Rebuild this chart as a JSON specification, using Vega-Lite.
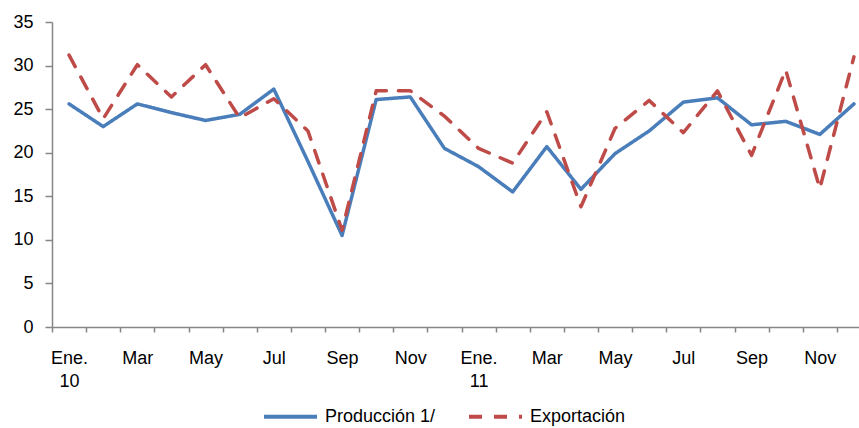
{
  "$schema": "https://vega.github.io/schema/vega-lite/v6.json",
  "autosize": {"type": "none"},
  "padding": {"left": 52, "top": 22, "right": 0, "bottom": 101},
  "width": 819,
  "height": 305,
  "background": "white",
  "config": {
    "font": "Liberation Sans",
    "view": {"stroke": null},
    "axis": {"labelFont": "Liberation Sans", "labelFontSize": 18, "labelColor": "#000000", "domainColor": "#868686", "tickColor": "#868686", "domainWidth": 1.5, "tickWidth": 1.5, "grid": false, "title": null},
    "legend": {"orient": "none", "legendX": 210, "legendY": 366, "direction": "horizontal", "title": null, "padding": 0, "symbolType": "stroke", "symbolSize": 2809, "symbolStrokeWidth": 4, "labelFontSize": 18, "labelFont": "Liberation Sans", "labelColor": "#000000", "labelOffset": 6, "columnPadding": 25}
  },
  "data": {
    "values": [
      {"mes": "Ene-10", "serie": "Producción 1/", "valor": 25.6},
      {"mes": "Feb-10", "serie": "Producción 1/", "valor": 23.0},
      {"mes": "Mar-10", "serie": "Producción 1/", "valor": 25.6},
      {"mes": "Abr-10", "serie": "Producción 1/", "valor": 24.6},
      {"mes": "May-10", "serie": "Producción 1/", "valor": 23.7},
      {"mes": "Jun-10", "serie": "Producción 1/", "valor": 24.4},
      {"mes": "Jul-10", "serie": "Producción 1/", "valor": 27.3},
      {"mes": "Ago-10", "serie": "Producción 1/", "valor": 19.0},
      {"mes": "Sep-10", "serie": "Producción 1/", "valor": 10.5},
      {"mes": "Oct-10", "serie": "Producción 1/", "valor": 26.1},
      {"mes": "Nov-10", "serie": "Producción 1/", "valor": 26.4},
      {"mes": "Dic-10", "serie": "Producción 1/", "valor": 20.5},
      {"mes": "Ene-11", "serie": "Producción 1/", "valor": 18.4},
      {"mes": "Feb-11", "serie": "Producción 1/", "valor": 15.5},
      {"mes": "Mar-11", "serie": "Producción 1/", "valor": 20.7},
      {"mes": "Abr-11", "serie": "Producción 1/", "valor": 15.8},
      {"mes": "May-11", "serie": "Producción 1/", "valor": 19.9},
      {"mes": "Jun-11", "serie": "Producción 1/", "valor": 22.5},
      {"mes": "Jul-11", "serie": "Producción 1/", "valor": 25.8},
      {"mes": "Ago-11", "serie": "Producción 1/", "valor": 26.3},
      {"mes": "Sep-11", "serie": "Producción 1/", "valor": 23.2},
      {"mes": "Oct-11", "serie": "Producción 1/", "valor": 23.6},
      {"mes": "Nov-11", "serie": "Producción 1/", "valor": 22.1},
      {"mes": "Dic-11", "serie": "Producción 1/", "valor": 25.6},
      {"mes": "Ene-10", "serie": "Exportación", "valor": 31.2},
      {"mes": "Feb-10", "serie": "Exportación", "valor": 23.9},
      {"mes": "Mar-10", "serie": "Exportación", "valor": 30.1},
      {"mes": "Abr-10", "serie": "Exportación", "valor": 26.4},
      {"mes": "May-10", "serie": "Exportación", "valor": 30.1},
      {"mes": "Jun-10", "serie": "Exportación", "valor": 24.0},
      {"mes": "Jul-10", "serie": "Exportación", "valor": 26.2},
      {"mes": "Ago-10", "serie": "Exportación", "valor": 22.5},
      {"mes": "Sep-10", "serie": "Exportación", "valor": 11.1},
      {"mes": "Oct-10", "serie": "Exportación", "valor": 27.1},
      {"mes": "Nov-10", "serie": "Exportación", "valor": 27.1},
      {"mes": "Dic-10", "serie": "Exportación", "valor": 24.2},
      {"mes": "Ene-11", "serie": "Exportación", "valor": 20.5},
      {"mes": "Feb-11", "serie": "Exportación", "valor": 18.8},
      {"mes": "Mar-11", "serie": "Exportación", "valor": 24.7},
      {"mes": "Abr-11", "serie": "Exportación", "valor": 13.8},
      {"mes": "May-11", "serie": "Exportación", "valor": 22.8},
      {"mes": "Jun-11", "serie": "Exportación", "valor": 26.0},
      {"mes": "Jul-11", "serie": "Exportación", "valor": 22.3},
      {"mes": "Ago-11", "serie": "Exportación", "valor": 27.1},
      {"mes": "Sep-11", "serie": "Exportación", "valor": 19.7},
      {"mes": "Oct-11", "serie": "Exportación", "valor": 29.5},
      {"mes": "Nov-11", "serie": "Exportación", "valor": 15.9},
      {"mes": "Dic-11", "serie": "Exportación", "valor": 31.0}
    ]
  },
  "mark": {"type": "line", "strokeWidth": 3.5, "strokeJoin": "round", "strokeCap": "round"},
  "encoding": {
    "x": {
      "field": "mes",
      "type": "ordinal",
      "sort": null,
      "scale": {"type": "band", "paddingInner": 0, "paddingOuter": 0},
      "axis": {
        "tickBand": "extent",
        "tickSize": 5,
        "labelAngle": 0,
        "labelPadding": 17,
        "labelOverlap": false,
        "labelLineHeight": 23,
        "labelExpr": "!isString(datum.value) ? '' : (indexof(['Feb','Abr','Jun','Ago','Oct','Dic'], substring(datum.value,0,3)) >= 0 ? '' : (substring(datum.value,0,3) == 'Ene' ? ['Ene.', substring(datum.value,4,6)] : substring(datum.value,0,3)))"
      }
    },
    "y": {
      "field": "valor",
      "type": "quantitative",
      "scale": {"domain": [0, 35], "nice": false},
      "axis": {"values": [0, 5, 10, 15, 20, 25, 30, 35], "tickSize": 7, "labelPadding": 12}
    },
    "color": {
      "field": "serie",
      "type": "nominal",
      "scale": {"domain": ["Producción 1/", "Exportación"], "range": ["#4A7EBB", "#BE4B48"]}
    },
    "strokeDash": {
      "field": "serie",
      "type": "nominal",
      "scale": {"domain": ["Producción 1/", "Exportación"], "range": [[1, 0], [13, 12]]}
    }
  }
}
